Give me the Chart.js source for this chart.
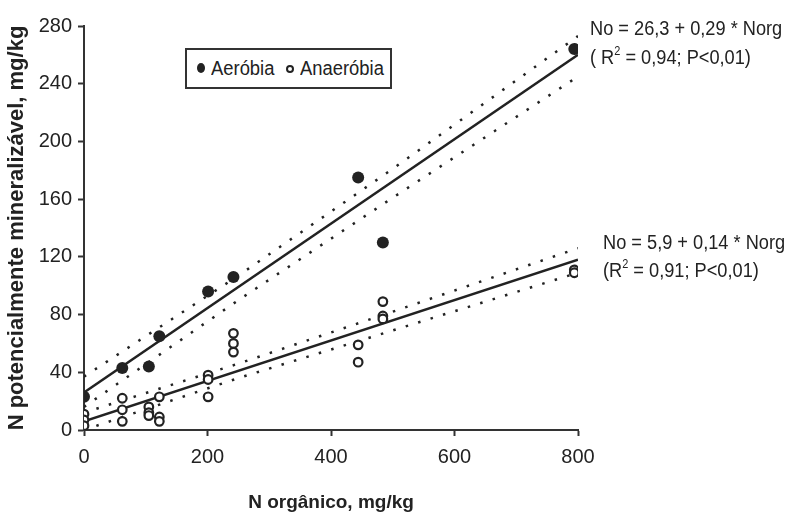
<!DOCTYPE html>
<html>
<head>
<meta charset="utf-8">
<script src="https://cdn.jsdelivr.net/npm/chart.js@4.4.0/dist/chart.umd.min.js"></script>
<style>
body{margin:0;background:#fff;}
#wrap{position:relative;width:795px;height:516px;}
.note{position:absolute;font-family:"Liberation Sans",Arial,sans-serif;font-size:20px;color:#222;line-height:26px;white-space:nowrap;transform:scaleX(0.91);transform-origin:left center;}
.note sup{font-size:12px;line-height:0;vertical-align:9px;}
#legend{position:absolute;left:185px;top:48px;width:203px;height:37px;border:2px solid #333;background:#fff;}
.lt{position:absolute;top:6px;font-family:"Liberation Sans",Arial,sans-serif;font-size:20px;color:#222;line-height:24px;white-space:nowrap;transform:scaleX(0.92);transform-origin:left center;}
.dot{position:absolute;border-radius:50%;}
.full{left:10px;top:13px;width:8px;height:10px;background:#222;}
.open{left:99px;top:15px;width:4px;height:4px;border:2px solid #222;}
</style>
</head>
<body>
<div id="wrap">
<canvas id="myChart" width="795" height="516"></canvas>
<div id="legend"><span class="dot full"></span><span class="lt" style="left:24px">Aeróbia</span><span class="dot open"></span><span class="lt" style="left:113px">Anaeróbia</span></div>
<div class="note" style="left:590px;top:15px">No = 26,3 + 0,29 * Norg</div>
<div class="note" style="left:590px;top:44px">( R<sup>2</sup> = 0,94; P&lt;0,01)</div>
<div class="note" style="left:603px;top:229px">No = 5,9 + 0,14 * Norg</div>
<div class="note" style="left:603px;top:257px">(R<sup>2</sup> = 0,91; P&lt;0,01)</div>
</div>
<script>
//values
var aeroX=[0,62,105,122,201,242,444,484,794];
var aeroY=[23,43,44,65,96,106,175,130,264];
var anaeX=[0,0,0,62,62,62,105,105,105,122,122,122,201,201,201,242,242,242,444,444,484,484,484,794,794];
var anaeY=[11,7,3,22,14,6,16,12,10,23,9,6,38,35,23,67,60,54,59,47,89,79,77,111,109];

//regression lines and dotted bands
var fitX=[0,800];
var aeroFit=[26,260];
var anaeFit=[6,118];
var bandX=[0,250,500,800];
var aeroUp=[37,107,181,273];
var aeroLow=[16,90,161,245];
var anaeUp=[12,46,82,126];
var anaeLow=[0,36,69,109];

var tickFont={family:'"Liberation Sans",Arial,sans-serif',size:20};

function pts(xs,ys){
    let out=[];
    for(let i=0;i<xs.length;i++){
        out.push({x:xs[i],y:ys[i]});
    }
    return out
}
function lineSet(xs,ys,dotted){
    return {
        data: pts(xs,ys),
        showLine: true,
        pointRadius: 0,
        borderColor: '#222',
        borderWidth: 2.5,
        borderDash: dotted ? [2.5,10.5] : [],
        fill: false
    }
}

const ctx = document.getElementById('myChart').getContext('2d');
const myChart = new Chart(ctx, {
    type: 'scatter',
    data: {
        datasets: [
        {
            label: 'Aeróbia',
            data: pts(aeroX,aeroY),
            pointRadius: 6,
            pointBackgroundColor: '#222',
            pointBorderColor: '#222',
            pointBorderWidth: 0
        },
        {
            label: 'Anaeróbia',
            data: pts(anaeX,anaeY),
            pointRadius: 4.3,
            pointBackgroundColor: '#fff',
            pointBorderColor: '#222',
            pointBorderWidth: 2.2
        },
        lineSet(fitX,aeroFit,false),
        lineSet(fitX,anaeFit,false),
        lineSet(bandX,aeroUp,true),
        lineSet(bandX,aeroLow,true),
        lineSet(bandX,anaeUp,true),
        lineSet(bandX,anaeLow,true)
        ]
    },
    options: {
        responsive: false,
        animation: false,
        layout: {padding: {left: 0, right: 217, top: 26, bottom: 0}},
        plugins: {legend: {display: false}, tooltip: {enabled: false}},
        scales: {
            x: {
                type: 'linear',
                min: 0,
                max: 800,
                ticks: {stepSize: 200, font: tickFont, color: '#222', padding: 9},
                grid: {drawOnChartArea: false, drawTicks: true, tickLength: 6, tickColor: '#333', tickWidth: 2},
                border: {color: '#333', width: 2},
                title: {display: true, text: 'N orgânico, mg/kg', font: {family:'"Liberation Sans",Arial,sans-serif',size:19,weight:'bold'}, color: '#222', padding: {top: 0, bottom: 2}},
                afterFit: function(s){ s.height = 86; }
            },
            y: {
                min: 0,
                max: 280,
                ticks: {stepSize: 40, font: tickFont, color: '#222', padding: 6},
                grid: {drawOnChartArea: false, drawTicks: true, tickLength: 6, tickColor: '#333', tickWidth: 2},
                border: {color: '#333', width: 2},
                title: {display: true, text: 'N potencialmente mineralizável, mg/kg', font: {family:'"Liberation Sans",Arial,sans-serif',size:22,weight:'bold'}, color: '#222', padding: {top: 4, bottom: 0}},
                afterFit: function(s){ s.width = 84; }
            }
        }
    }
});
</script>
</body>
</html>
